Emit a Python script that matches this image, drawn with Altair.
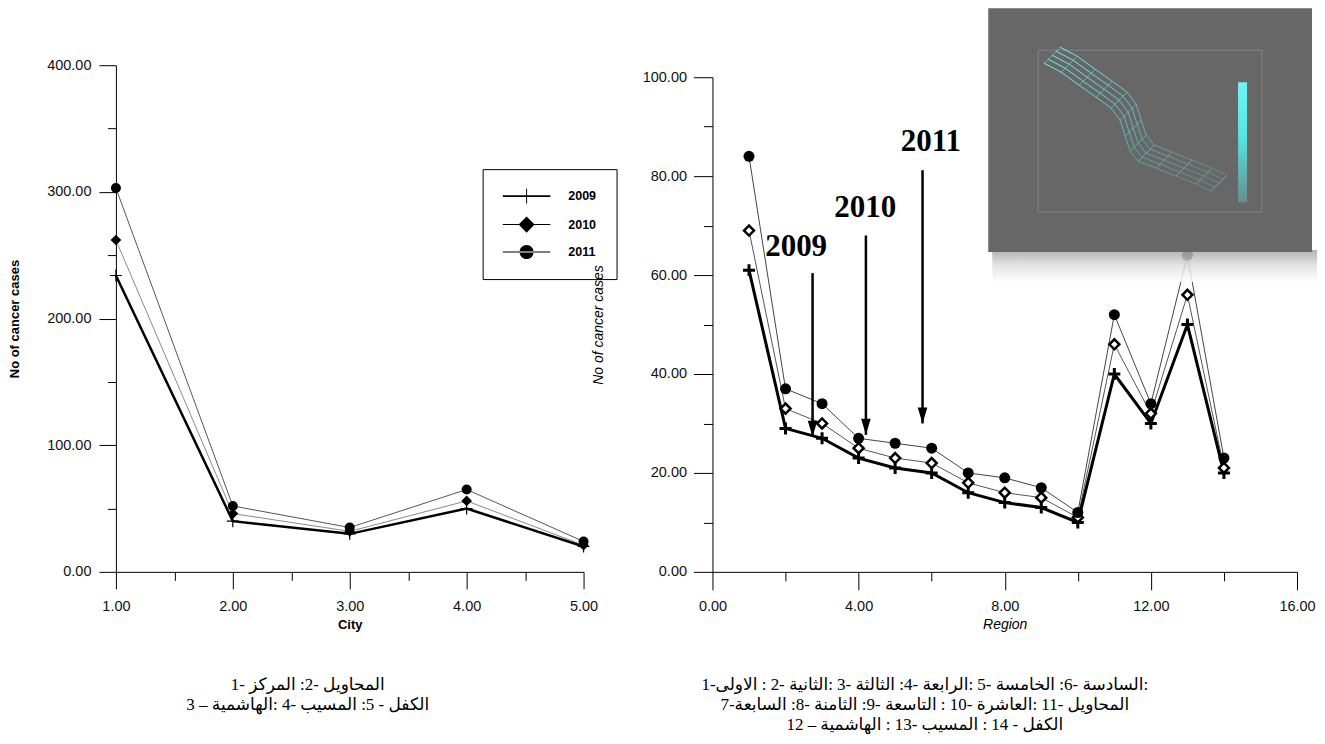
import re
import altair as alt
import pandas as pd

# ---------------- data ----------------
years = ["2009", "2010", "2011"]

city = [1, 2, 3, 4, 5]
city_2009 = [234, 40, 30, 50, 20]
city_2010 = [262, 46, 32, 56, 21]
city_2011 = [303, 52, 35, 65, 24]

region = list(range(1, 15))
region_2009 = [61, 29, 27, 23, 21, 20, 16, 14, 13, 10, 40, 30, 50, 20]
region_2010 = [69, 33, 30, 25, 23, 22, 18, 16, 15, 11, 46, 32, 56, 21]
region_2011 = [84, 37, 34, 27, 26, 25, 20, 19, 17, 12, 52, 34, 64, 23]

left_x_ticks = [1, 2, 3, 4, 5]
left_x_minor = [1.5, 2.5, 3.5, 4.5]
left_y_ticks = [0, 100, 200, 300, 400]
left_y_minor = [50, 150, 250, 350]
right_x_ticks = [0, 4, 8, 12, 16]
right_x_minor = [2, 6, 10, 14]
right_y_ticks = [0, 20, 40, 60, 80, 100]
right_y_minor = [10, 30, 50, 70, 90]

arrow_year = ["2009", "2010", "2011"]
arrow_x = [2.74, 4.2, 5.75]
arrow_top = [60.4, 68.0, 81.2]
arrow_tip = [27.3, 27.7, 30.0]
label_x = [2.29, 4.18, 5.98]
label_y = [65.7, 73.5, 86.9]

# caption lines (each number is followed by its place name)
caption_left_raw = [
    "1- المركز :2- المحاويل",
    "3 – الهاشمية: 4- المسيب :5 - الكفل",
]
caption_right_raw = [
    "1-الاولى : 2- الثانية: 3- الثالثة :4- الرابعة: 5- الخامسة :6- السادسة:",
    "7-السابعة :8- الثامنة :9- التاسعة : 10- العاشرة: 11- المحاويل",
    "12 – الهاشمية : 13- المسيب : 14 - الكفل",
]

# ---------------- helpers ----------------
FONT = "Liberation Sans"
SERIF = "Liberation Serif"
ARABIC = re.compile(r"([\u0600-\u06FF]+)")


def ltr(s):
    # left-to-right line in which every Arabic word is its own right-to-left run
    return "\u200e" + ARABIC.sub(lambda m: m.group(1) + "\u200e", s)


caption_left = [ltr(s) for s in caption_left_raw]
caption_right = [ltr(s) for s in caption_right_raw]


def long_df(xname, xs, series):
    rows = []
    for yr, vals in zip(years, series):
        for x, v in zip(xs, vals):
            rows.append({xname: x, "Cases": v, "Year": yr})
    return pd.DataFrame(rows)


left_df = long_df("City", city, [city_2009, city_2010, city_2011])
right_df = long_df("Region", region, [region_2009, region_2010, region_2011])

# ---------------- left chart ----------------
lx_scale = alt.Scale(domain=[1, 5], nice=False, zero=False)
ly_scale = alt.Scale(domain=[0, 400], nice=False)


def lx(axis=None, field="City"):
    return alt.X(f"{field}:Q", scale=lx_scale, axis=axis)


def ly(axis=None, field="Cases"):
    return alt.Y(f"{field}:Q", scale=ly_scale, axis=axis)


left_x_axis = alt.Axis(values=left_x_ticks, format=".2f", tickSize=17, labelPadding=11,
                       title="City", titleFontWeight="bold", titleFontSize=13,
                       titlePadding=5, orient="bottom")
left_x_minor_axis = alt.Axis(values=left_x_minor, labels=False, domain=False, tickSize=8.5,
                             title=None, orient="bottom")
left_y_axis = alt.Axis(values=left_y_ticks, format=".2f", tickSize=17, labelPadding=8,
                       title="No of cancer cases", titleFontWeight="bold", titleFontSize=13,
                       titlePadding=25, orient="left")
left_y_minor_axis = alt.Axis(values=left_y_minor, labels=False, domain=False, tickSize=8.5,
                             title=None, orient="left")

lbase = alt.Chart(left_df)


def lsel(y):
    return lbase.transform_filter(alt.datum.Year == y)


PLUS = "M-1,0H1M0,-1V1"

left_layers = [
    lsel("2010").mark_line(color="#8a8a8a", strokeWidth=1).encode(x=lx(), y=ly()),
    lsel("2011").mark_line(color="#555555", strokeWidth=1).encode(x=lx(), y=ly()),
    lsel("2009").mark_line(color="black", strokeWidth=2.5).encode(x=lx(left_x_axis), y=ly(left_y_axis)),
    lsel("2009").mark_point(shape=PLUS, size=144, filled=False, stroke="black",
                            strokeWidth=1.2, opacity=1).encode(x=lx(), y=ly()),
    lsel("2010").mark_point(shape="diamond", size=115, filled=True, color="black",
                            opacity=1).encode(x=lx(), y=ly()),
    lsel("2011").mark_point(shape="circle", size=100, filled=True, color="black",
                            opacity=1).encode(x=lx(), y=ly()),
    lbase.mark_point(opacity=0).encode(x=lx(left_x_minor_axis), y=ly(left_y_minor_axis)),
]

legend_paths = [
    "M-3.4,-0.12H3.4V0.12H-3.4Z M-0.07,-1.07H0.07V1.07H-0.07Z",
    "M-3.4,-0.07H3.4V0.07H-3.4Z M0,-1.15L1.15,0L0,1.15L-1.15,0Z",
    "M-3.4,-0.07H3.4V0.07H-3.4Z M-1,0A1,1 0 1,0 1,0A1,1 0 1,0 -1,0Z",
]
legend_layer = lbase.transform_filter("false").mark_point(
    filled=True, color="black", opacity=1
).encode(
    shape=alt.Shape(
        "Year:N",
        scale=alt.Scale(domain=years, range=legend_paths),
        legend=alt.Legend(
            orient="none", legendX=367, legendY=104, title=None, direction="vertical",
            strokeColor="black", fillColor="white", padding=20, cornerRadius=0,
            symbolSize=196, symbolOffset=17, labelOffset=34.7, rowPadding=11.5,
            symbolFillColor="black", symbolStrokeColor="black", symbolStrokeWidth=0,
            labelFont=FONT, labelFontWeight="bold", labelFontSize=12.5, labelColor="black",
        ),
    )
)
left_layers.append(legend_layer)

CAPTION_FONT = SERIF + ", DejaVu Sans"

left = alt.layer(*left_layers).resolve_axis(x="independent", y="independent").properties(
    width=468, height=507,
    title=alt.TitleParams(text=caption_left, orient="bottom", anchor="middle", frame="group",
                          font=CAPTION_FONT, fontSize=17, fontWeight="normal",
                          color="black", offset=46, dx=-42, lineHeight=20),
)

# ---------------- right chart ----------------
rx_scale = alt.Scale(domain=[0, 16], nice=False, zero=False)
ry_scale = alt.Scale(domain=[0, 100], nice=False, range=[507, 12])


def rx(field="Region", axis=None):
    return alt.X(f"{field}:Q", scale=rx_scale, axis=axis)


def ry(field="Cases", axis=None):
    return alt.Y(f"{field}:Q", scale=ry_scale, axis=axis)


right_x_axis = alt.Axis(values=right_x_ticks, format=".2f", tickSize=18, labelPadding=10,
                        title="Region", titleFontStyle="italic", titleFontWeight="normal",
                        titleFontSize=14, titlePadding=4, orient="bottom")
right_x_minor_axis = alt.Axis(values=right_x_minor, labels=False, domain=False, tickSize=9,
                              title=None, orient="bottom")
right_y_axis = alt.Axis(values=right_y_ticks, format=".2f", tickSize=19, labelPadding=7,
                        title="No of cancer cases", titleFontStyle="italic",
                        titleFontWeight="normal", titleFontSize=14, titlePadding=37,
                        orient="left")
right_y_minor_axis = alt.Axis(values=right_y_minor, labels=False, domain=False, tickSize=9,
                              title=None, orient="left")

rbase = alt.Chart(right_df)


def rsel(y):
    return rbase.transform_filter(alt.datum.Year == y)


arrows_df = pd.DataFrame({"Year": arrow_year, "ax": arrow_x, "top": arrow_top,
                          "tip": arrow_tip, "lx": label_x, "ly": label_y})
abase = alt.Chart(arrows_df)

# ---- inset picture (decoration, placed in the panel's own data units) ----
RX0, RPX = 713.0, 36.5625
RY0, RPY = 572.0, 4.95


def ix(px):
    return (px - RX0) / RPX


def iy(py):
    return (RY0 - py) / RPY


def rect_df(x0, x1, y0, y1):
    return pd.DataFrame([{"x0": ix(x0), "x1": ix(x1), "y0": iy(y0), "y1": iy(y1)}])


shadow_grad = alt.Gradient(gradient="linear",
                           stops=[alt.GradientStop(color="#a5a5a5", offset=0),
                                  alt.GradientStop(color="#dcdcdc", offset=0.45),
                                  alt.GradientStop(color="#ffffff", offset=1)],
                           x1=0, y1=0, x2=0, y2=1)
bar_grad = alt.Gradient(gradient="linear",
                        stops=[alt.GradientStop(color="#6ff6f6", offset=0),
                               alt.GradientStop(color="#57e4e4", offset=0.45),
                               alt.GradientStop(color="#6a8c8c", offset=1)],
                        x1=0, y1=0, x2=0, y2=1)
wire_grad = alt.Gradient(gradient="linear",
                         stops=[alt.GradientStop(color="#72f4f4", offset=0),
                                alt.GradientStop(color="#62a9a9", offset=0.6),
                                alt.GradientStop(color="#5f8787", offset=1)],
                         x1=0, y1=0, x2=1, y2=1)

wire_centre = [(1053, 55), (1070, 64), (1088, 77), (1105, 89), (1120, 100), (1129, 112),
               (1134, 128), (1139, 143), (1147, 153), (1165, 160), (1185, 168),
               (1205, 176), (1220, 183)]
strand_rows = []
for k in [-2, -1, 0, 1, 2]:
    for i, (px, py) in enumerate(wire_centre):
        strand_rows.append({"k": k, "i": i, "wx": ix(px + 4 * k), "wy": iy(py - 4 * k)})
strands_df = pd.DataFrame(strand_rows)
cross_df = pd.DataFrame([{"cx0": ix(px - 8), "cy0": iy(py + 8), "cx1": ix(px + 8), "cy1": iy(py - 8)}
                         for px, py in wire_centre])


def inset_rect(df, **mark):
    return alt.Chart(df).mark_rect(clip=False, **mark).encode(
        x=rx("x0"), x2=alt.X2("x1:Q"), y=ry("y0"), y2=alt.Y2("y1:Q"))


inset_layers = [
    inset_rect(rect_df(993, 1318, 250, 282), fill=shadow_grad, opacity=0.85),
    inset_rect(rect_df(989, 1313, 8, 252), fill="#676767"),
    inset_rect(rect_df(1039, 1263, 50, 212), fill="#676767", stroke="#858585", strokeWidth=1),
    inset_rect(rect_df(1239, 1248, 82, 202), fill=bar_grad),
    alt.Chart(cross_df).mark_rule(clip=False, color="#5fcaca", strokeWidth=1, opacity=0.75).encode(
        x=rx("cx0"), y=ry("cy0"), x2=alt.X2("cx1:Q"), y2=alt.Y2("cy1:Q")),
    alt.Chart(strands_df).mark_line(clip=False, stroke=wire_grad, strokeWidth=1).encode(
        x=rx("wx"), y=ry("wy"), detail="k:N", order="i:Q"),
]

right_layers = [
    rsel("2010").mark_line(color="#555555", strokeWidth=1).encode(x=rx(), y=ry()),
    rsel("2011").mark_line(color="#444444", strokeWidth=1).encode(x=rx(), y=ry()),
    rsel("2009").mark_line(color="black", strokeWidth=3).encode(x=rx(axis=right_x_axis),
                                                              y=ry(axis=right_y_axis)),
    rsel("2009").mark_point(shape=PLUS, size=144, filled=False, stroke="black",
                            strokeWidth=3, opacity=1).encode(x=rx(), y=ry()),
    rsel("2010").mark_point(shape="diamond", size=100, filled=True, fill="white",
                            stroke="black", strokeWidth=2.5, opacity=1).encode(x=rx(), y=ry()),
    rsel("2011").mark_point(shape="circle", size=121, filled=True, color="black",
                            opacity=1).encode(x=rx(), y=ry()),
    abase.mark_rule(color="black", strokeWidth=2.5).encode(x=rx("ax"), y=ry("top"),
                                                           y2=alt.Y2("tip:Q")),
    abase.mark_point(shape="M0,1L-0.6,-1L0.6,-1Z", size=256, filled=True, color="black",
                     opacity=1, yOffset=-8).encode(x=rx("ax"), y=ry("tip")),
    abase.mark_text(font=SERIF, fontSize=31, fontWeight="bold", color="black",
                    align="center", baseline="middle").encode(x=rx("lx"), y=ry("ly"),
                                                             text="Year:N"),
] + inset_layers + [
    rbase.mark_point(opacity=0).encode(x=rx(axis=right_x_minor_axis),
                                       y=ry(axis=right_y_minor_axis)),
]

right = alt.layer(*right_layers).resolve_axis(x="independent", y="independent").properties(
    width=585, height=507,
    title=alt.TitleParams(text=caption_right, orient="bottom", anchor="middle", frame="group",
                          font=CAPTION_FONT, fontSize=17, fontWeight="normal",
                          color="black", offset=46, dx=-80, lineHeight=20),
)

chart = alt.hconcat(left, right, spacing=129, bounds="flush").resolve_scale(
    shape="independent"
).properties(padding=0, background="white").configure_view(stroke=None).configure_axis(
    labelFont=FONT, titleFont=FONT, labelFontSize=14.5, labelColor="#111111",
    titleColor="black", domainColor="black", tickColor="black", domainWidth=1,
    tickWidth=1, grid=False, labelFlush=False, labelOverlap=False,
)

chart.save("out.html", embed_options={"renderer": "svg", "actions": False})
